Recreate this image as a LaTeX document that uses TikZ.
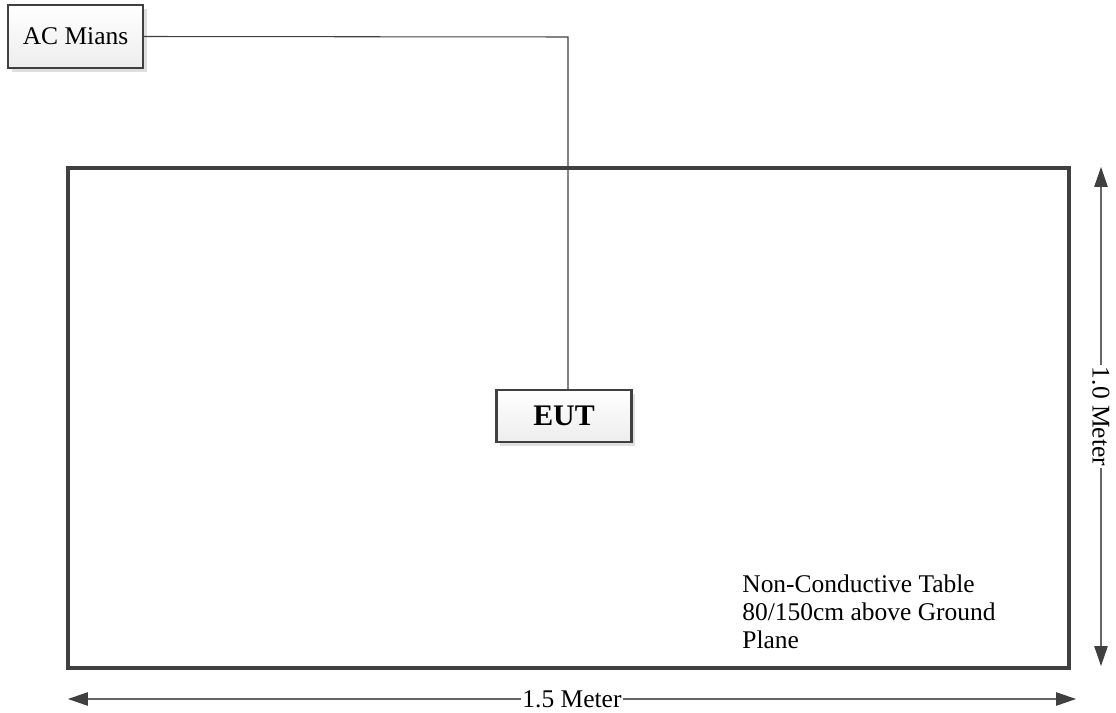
\documentclass[tikz,border=0pt]{standalone}
\usepackage{fontspec}
\setmainfont{Liberation Serif}
\usetikzlibrary{arrows.meta,shadows}
\definecolor{linea}{HTML}{404040}
\tikzset{
  blocco/.style={draw=linea, line width=1.2pt, top color=white, bottom color=gray!14,
    drop shadow={shadow xshift=2pt, shadow yshift=-2pt, opacity=0.25, fill=gray}, inner sep=0pt},
  quota/.style={{Triangle[length=0.4cm,width=0.27cm,color=linea]}-{Triangle[length=0.4cm,width=0.27cm,color=linea]},
    draw=gray!80!black, line width=0.6pt},
  etichetta/.style={fill=white, inner sep=1pt, font=\fontsize{14.5}{16.5}\selectfont},
}
\begin{document}
\begin{tikzpicture}[x=0.02cm,y=-0.02cm]
    \useasboundingbox (0,0) rectangle (1116,713);
    %%%%%%%%%% Tavolo %%%%%%%%%%
    \draw[linea, line width=2pt] (68,168) rectangle (1069,668);

    %%%%%%%%%% Nodi %%%%%%%%%%
    \node[blocco, minimum width=2.7cm, minimum height=1.26cm, font=\fontsize{14.5}{16.5}\selectfont] (ac) at (75.5,36.5) {AC Mians};
    \node[blocco, minimum width=2.7cm, minimum height=1.04cm, font=\fontsize{17}{20}\selectfont\bfseries] (eut) at (564,416) {EUT};
    \node[anchor=north west, align=left, inner sep=0pt, font=\fontsize{14.5}{16.2}\selectfont] (nota) at (742,574)
        {Non-Conductive Table\\80/150cm above Ground\\Plane};

    %%%%%%%%% Cavo %%%%%%%%%
    \coordinate (gomito) at (568,37);
    \draw[linea, line width=0.6pt] (ac.east) -- (gomito) -- (gomito |- eut.north);

    %%%%%%%%% Quote %%%%%%%%%
    \coordinate (qh1) at (68,699);
    \coordinate (qh2) at (1076,699);
    \coordinate (qv1) at (1101,167);
    \coordinate (qv2) at (1101,666);
    \draw[quota] (qh1) -- (qh2) node[midway, etichetta] (largo) {1.5 Meter};
    \draw[quota] (qv1) -- (qv2) node[midway, etichetta, rotate=-90] (alto) {1.0 Meter};
\end{tikzpicture}
\end{document}
